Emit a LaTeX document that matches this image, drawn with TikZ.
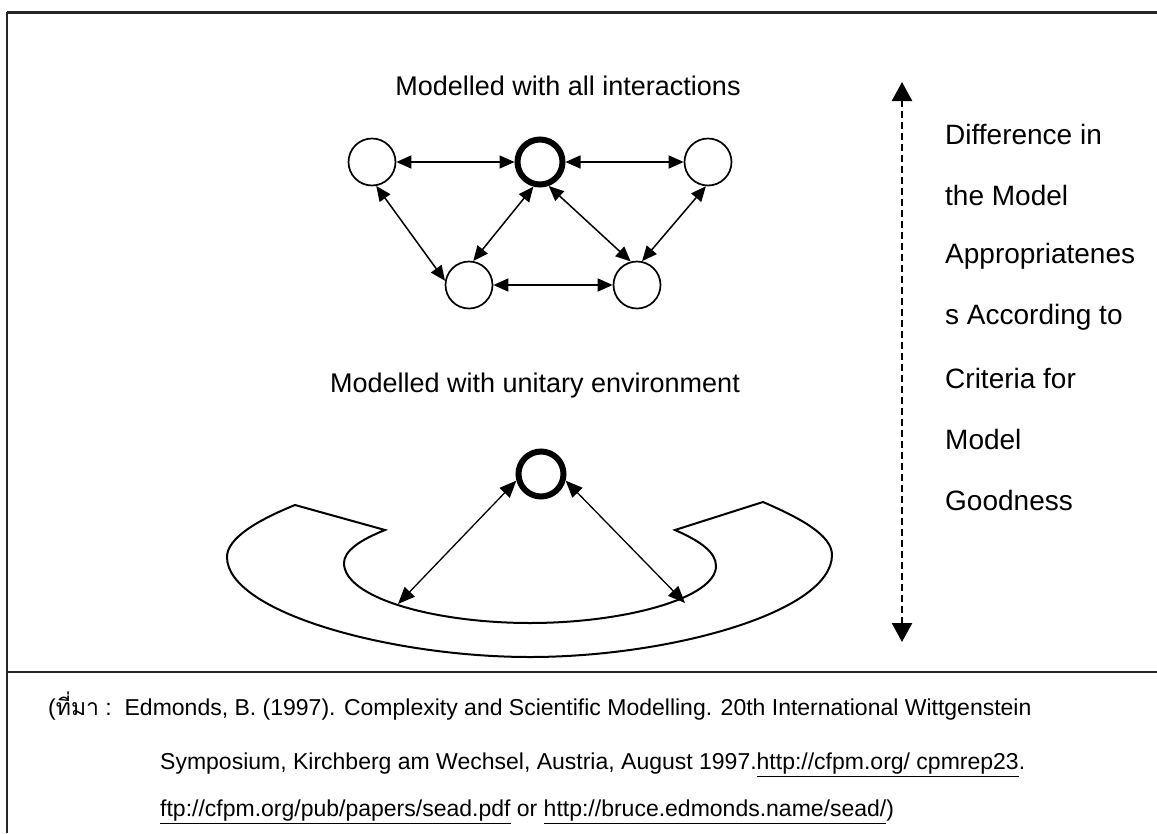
\documentclass[tikz,border=0pt]{standalone}
\usepackage{fontspec}
\setmainfont{Liberation Sans}
\newfontfamily\thaifont[Script=Thai]{Loma}
\usetikzlibrary{arrows.meta}
\begin{document}
\begin{tikzpicture}[x=1pt,y=-1pt,
  circ/.style={circle,draw,line width=1.7pt,minimum size=47pt,inner sep=0pt},
  boldcirc/.style={circle,draw,line width=6pt,minimum size=45pt,inner sep=0pt},
  link/.style={line width=1.5pt,{Triangle[length=15pt,width=13pt]}-{Triangle[length=15pt,width=13pt]}},
  envlink/.style={line width=1.3pt,{Triangle[length=17pt,width=14pt]}-{Triangle[length=17pt,width=14pt]}},
  title/.style={font=\fontsize{27}{32}\selectfont,inner sep=0pt},
  side/.style={font=\fontsize{28}{33}\selectfont,anchor=west,inner sep=0pt},
  captext/.style={font=\fontsize{23}{27}\selectfont,anchor=west,inner sep=0pt},
  frameline/.style={line width=2pt,black!85},
  envshape/.style={line width=2pt},
  scaleaxis/.style={line width=2.5pt,dash pattern=on 7pt off 4pt,{Triangle[length=19pt,width=20pt]}-{Triangle[length=19pt,width=20pt]}}
]
\useasboundingbox (0,0) rectangle (1157,833);
% frame
\draw[frameline,line width=3pt] (7,12) -- (1157,12);
\draw[frameline] (7,12) -- (7,833);
\draw[frameline] (7,672) -- (1157,672);

% titles
\node[title] (t1) at (568,86) {Modelled with all interactions};
\node[title] (t2) at (535,386) {Modelled with unitary environment};

% top network
\node[circ] (L) at (372,162) {};
\node[boldcirc] (C) at (540,162) {};
\node[circ] (R) at (708,162) {};
\node[circ] (BL) at (469,285) {};
\node[circ] (BR) at (637,285) {};
\draw[link] (L) -- (C);
\draw[link] (C) -- (R);
\draw[link] (BL) -- (BR);
\draw[link] (L.280) -- (BL.170);
\draw[link] (C.255) -- (BL.80);
\draw[link] (C.290) -- (BR.105);
\draw[link] (R.265) -- (BR.78);

% unitary environment
\draw[envshape] (385,530) -- (295,505)
  .. controls (258,520) and (227,538) .. (227,557)
  .. controls (227,612) and (390,657) .. (530,657)
  .. controls (670,657) and (832,612) .. (832,555)
  .. controls (832,535) and (800,518) .. (763,502)
  -- (675,530)
  .. controls (700,541) and (716,552) .. (716,566)
  .. controls (716,598) and (625,623) .. (530,623)
  .. controls (435,623) and (344,598) .. (344,563)
  .. controls (344,551) and (360,540) .. (385,530) -- cycle;
\node[boldcirc] (E) at (541,474) {};
\coordinate (EL) at (398,604);
\coordinate (ER) at (685,603);
\draw[envlink] (E.195) -- (EL);
\draw[envlink] (E.345) -- (ER);

% scale axis
\coordinate (axtop) at (902,82);
\coordinate (axbot) at (902,642);
\draw[scaleaxis] (axtop) -- (axbot);
\node[side] (s1) at (945,134) {Difference in};
\node[side] (s2) at (945,195) {the Model};
\node[side] (s3) at (945,256) {Appropriatenes};
\node[side] (s4) at (945,317) {s According to};
\node[side] (s5) at (945,378) {Criteria for};
\node[side] (s6) at (945,439) {Model};
\node[side] (s7) at (945,500) {Goodness};

% caption
\node[captext] (c1) at (48,706) {({\thaifont ที่มา} :\ \ Edmonds, B. (1997). Complexity and Scientific Modelling. 20th International Wittgenstein};
\node[captext] (c2) at (160,765) {Symposium, Kirchberg am Wechsel, Austria, August 1997.\underline{http://cfpm.org/ cpmrep23}.};
\node[captext] (c3) at (160,812) {\underline{ftp://cfpm.org/pub/papers/sead.pdf} or \underline{http://bruce.edmonds.name/sead/})};
\end{tikzpicture}
\end{document}
